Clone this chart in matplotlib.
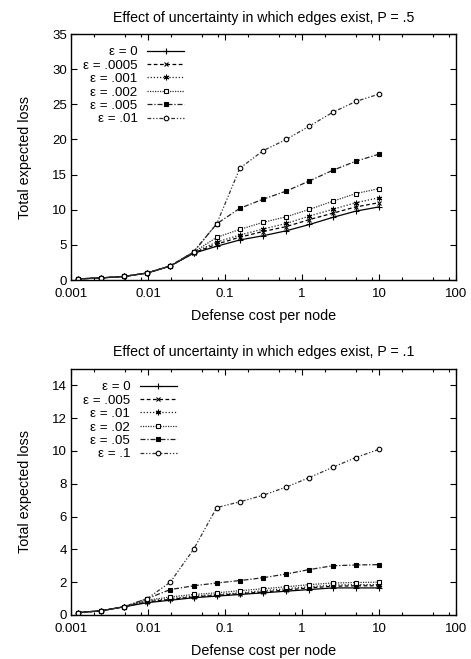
import matplotlib
matplotlib.use("Agg")
import matplotlib.pyplot as plt
from matplotlib.ticker import LogLocator, FixedLocator, NullFormatter

plt.rcParams['font.family'] = ['Liberation Sans', 'DejaVu Sans']
plt.rcParams['font.size'] = 10

# defense cost per node (x), same for both panels
cost = [0.00122, 0.00244, 0.00488, 0.00977, 0.0195, 0.0391, 0.0781,
        0.156, 0.3125, 0.625, 1.25, 2.5, 5.0, 10.0]

# P = .5 panel
eps_top = ['0', '.0005', '.001', '.002', '.005', '.01']
loss_top = [
    [0.15, 0.3, 0.5, 1.0, 2.0, 3.8, 4.8, 5.7, 6.3, 7.0, 7.9, 8.9, 9.8, 10.4],
    [0.15, 0.3, 0.5, 1.0, 2.0, 3.85, 5.1, 6.1, 6.9, 7.6, 8.6, 9.5, 10.4, 11.0],
    [0.15, 0.3, 0.5, 1.0, 2.0, 3.9, 5.4, 6.4, 7.25, 8.05, 9.1, 10.05, 11.0, 11.7],
    [0.15, 0.3, 0.5, 1.0, 2.0, 3.95, 6.07, 7.2, 8.2, 9.0, 10.05, 11.2, 12.3, 13.0],
    [0.15, 0.3, 0.5, 1.0, 2.0, 4.0, 8.0, 10.2, 11.5, 12.65, 14.1, 15.6, 16.9, 17.9],
    [0.15, 0.3, 0.5, 1.0, 2.0, 4.0, 8.0, 15.9, 18.4, 20.0, 21.9, 23.85, 25.4, 26.45],
]

# P = .1 panel
eps_bot = ['0', '.005', '.01', '.02', '.05', '.1']
loss_bot = [
    [0.15, 0.25, 0.5, 0.75, 0.9, 1.05, 1.15, 1.25, 1.35, 1.45, 1.55, 1.65, 1.65, 1.65],
    [0.15, 0.25, 0.5, 0.8, 0.95, 1.1, 1.2, 1.3, 1.4, 1.52, 1.65, 1.75, 1.78, 1.78],
    [0.15, 0.25, 0.5, 0.85, 1.0, 1.15, 1.25, 1.35, 1.48, 1.6, 1.72, 1.82, 1.85, 1.85],
    [0.15, 0.25, 0.5, 0.9, 1.1, 1.25, 1.35, 1.48, 1.6, 1.72, 1.85, 1.95, 1.98, 2.0],
    [0.15, 0.25, 0.5, 1.0, 1.55, 1.78, 1.95, 2.1, 2.27, 2.5, 2.77, 3.0, 3.05, 3.07],
    [0.15, 0.25, 0.5, 1.0, 2.0, 4.0, 6.55, 6.9, 7.3, 7.8, 8.38, 9.0, 9.6, 10.1],
]

# gnuplot-ish line types
styles = [
    dict(ls='-', marker='+', mfc='black', color='black', ms=4.5),
    dict(ls=(0, (3, 2)), marker='x', mfc='black', color='black', ms=3.5),
    dict(ls=(0, (1, 1.5)), marker=(6, 2, 0), mfc='black', color='#222222', ms=4),
    dict(ls=(0, (1, 1)), marker='s', mfc='white', color='#333333', ms=3.3),
    dict(ls=(0, (4, 1.5, 1, 1.5)), marker='s', mfc='black', color='#222222', ms=3.5),
    dict(ls=(0, (3, 1.5, 1, 1.5, 1, 1.5)), marker='o', mfc='white', color='#333333', ms=3.3),
]


def draw_panel(ax, eps, losses, title, ymax, ystep):
    for e, y, st in zip(eps, losses, styles):
        ax.plot(cost, y, ls=st['ls'], color=st['color'], lw=0.9,
                marker=st['marker'], ms=st['ms'], mfc=st['mfc'], mec='black',
                mew=0.8, label='\u03b5 = ' + e)
    ax.set_xscale('log')
    ax.set_xlim(0.001, 100)
    ax.set_ylim(0, ymax)
    ax.xaxis.set_major_locator(FixedLocator([0.001, 0.01, 0.1, 1, 10, 100]))
    ax.set_xticklabels(['0.001', '0.01', '0.1', '1', '10', '100'])
    ax.xaxis.set_minor_locator(LogLocator(base=10, subs=(2, 5, 8)))
    ax.xaxis.set_minor_formatter(NullFormatter())
    ax.set_yticks(list(range(0, int(ymax) + 1, ystep)))
    ax.tick_params(which='both', direction='in', top=True, right=True,
                   labelsize=9.5)
    ax.tick_params(which='major', length=4.5, width=0.8)
    ax.tick_params(axis='x', which='major', pad=6)
    ax.tick_params(axis='y', which='major', pad=3)
    ax.tick_params(which='minor', length=2.5, width=0.8)
    for sp in ax.spines.values():
        sp.set_linewidth(1.0)
    ax.set_title(title, fontsize=10.2, pad=9)
    ax.set_xlabel('Defense cost per node', fontsize=10.4, labelpad=6.5)
    ax.set_ylabel('Total expected loss', fontsize=10.4, labelpad=14)
    ax.legend(loc='upper left', frameon=False, markerfirst=False,
              fontsize=9.6, handlelength=2.8, handletextpad=0.7,
              labelspacing=0.08, borderaxespad=0.5)


fig = plt.figure(figsize=(4.71, 6.59), dpi=100)
ax1 = fig.add_axes([0.1507, 0.5751, 0.8174, 0.3733])
ax2 = fig.add_axes([0.1507, 0.0668, 0.8174, 0.3733])

draw_panel(ax1, eps_top, loss_top,
           'Effect of uncertainty in which edges exist, P = .5', 35, 5)
draw_panel(ax2, eps_bot, loss_bot,
           'Effect of uncertainty in which edges exist, P = .1', 15, 2)

fig.savefig('out.png', dpi=100)
